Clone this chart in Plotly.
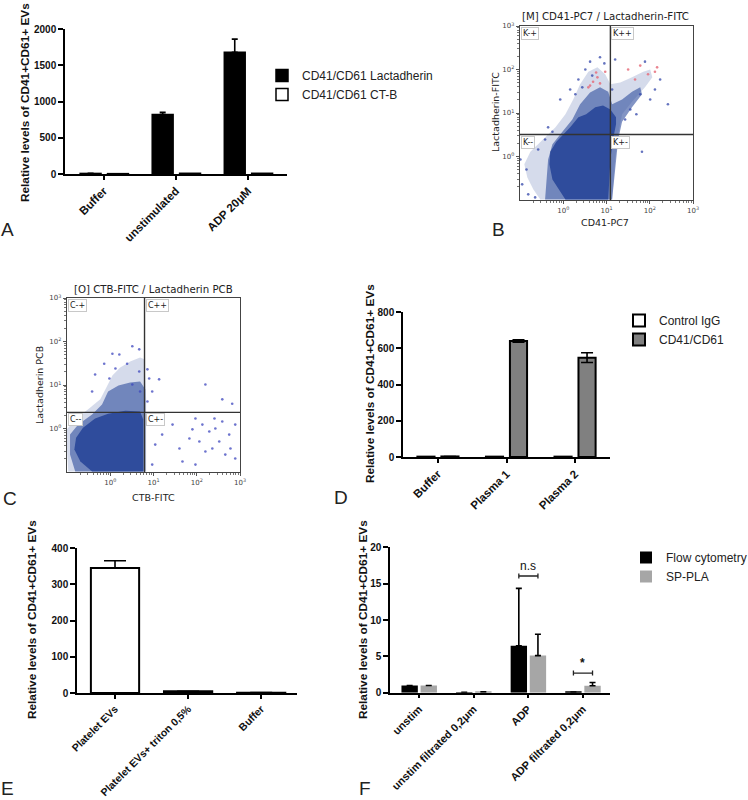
import numpy as np
import plotly.graph_objects as go

W, H = 748, 800

# ---------------- data ----------------
# Panel A
a_cats = ["Buffer", "unstimulated", "ADP 20μM"]
a_lact = [8, 820, 1680]
a_lact_err = [None, 30, 180]
a_ctb = [5, 10, 10]

# Panel D
d_cats = ["Buffer", "Plasma 1", "Plasma 2"]
d_igg = [2, 2, 2]
d_cd = [3, 640, 548]
d_cd_err = [None, 7, 27]

# Panel E
e_cats = ["Platelet EVs", "Platelet EVs+ triton 0,5%", "Buffer"]
e_vals = [345, 5, 1]
e_err = [20, None, None]

# Panel F
f_cats = ["unstim", "unstim filtrated 0,2μm", "ADP", "ADP filtrated 0,2μm"]
f_flow = [1.0, 0.05, 6.45, 0.1]
f_flow_err = [None, None, 7.9, None]
f_pla = [1.0, 0.12, 5.1, 0.95]
f_pla_err = [None, None, 2.95, 0.45]
f_sig_cat = [2, 3]
f_sig_text = ["n.s", "*"]
f_sig_y = [16.05, 2.7]

# Panel B flow cytometry (log10 decades), gates
b_gate_x = 12.3
b_gate_y = 3.2
b_core_x = [0.05, -0.07, -0.25, -0.32, -0.30, -0.16, 0.0, 0.16, 0.35, 0.53, 0.74, 0.92, 1.09, 1.22, 1.22, 1.15, 1.09, 1.04]
b_core_y = [-0.99, -0.80, -0.53, -0.18, 0.11, 0.34, 0.51, 0.67, 0.90, 0.97, 1.13, 1.17, 1.08, 0.90, 0.74, 0.39, -0.07, -0.99]
b_mid_x = [-0.35, -0.25, -0.02, 0.21, 0.39, 0.62, 0.85, 1.04, 1.13, 1.36, 1.59, 1.78, 1.82, 1.59, 1.36, 1.27, 1.20, 1.13, -0.42]
b_mid_y = [-0.07, 0.28, 0.57, 0.85, 1.20, 1.47, 1.59, 1.49, 1.20, 1.31, 1.49, 1.59, 1.43, 1.13, 0.80, 0.39, -0.30, -0.99, -0.99]
b_fringe_x = [-0.53, -0.69, -0.83, -0.90, -0.76, -0.53, -0.18, 0.05, 0.23, 0.39, 0.58, 0.79, 0.97, 1.09, 1.32, 1.59, 1.85, 2.01, 2.06, 1.89, 1.59, 1.36, 1.27, 1.20, 1.13]
b_fringe_y = [-0.99, -0.76, -0.48, -0.18, 0.11, 0.34, 0.67, 0.97, 1.31, 1.66, 1.95, 2.05, 1.89, 1.66, 1.70, 1.82, 1.95, 2.00, 1.82, 1.59, 1.26, 0.97, 0.51, -0.07, -0.99]
b_dots_x = [0.51, 0.62, 0.85, 0.35, 0.67, 0.16, -0.07, 0.28, 0.44, 0.95,
            1.20, 1.89, 2.24, 1.78, 2.01, 1.55, 1.43, 2.12, 1.32, 2.42, 1.69, 1.13,
            1.45, 1.82,
            -0.95, -0.81, -0.65, -0.85, -0.58, -0.42, -0.25, -0.99, -0.35, -0.72]
b_dots_y = [2.00, 2.18, 2.28, 1.77, 1.86, 1.54, 1.31, 1.43, 1.59, 2.14,
            2.23, 2.18, 1.77, 1.43, 1.31, 1.08, 0.85, 1.54, 0.39, 1.20, 0.97, 1.54,
            0.30, 0.11,
            -0.64, -0.87, -0.94, -0.30, 0.16, 0.39, 0.57, -0.07, 0.67, 0.25]
b_red_x = [0.69, 0.79, 0.62, 0.85, 0.97, 0.76, 0.58, 1.50, 1.78, 2.12, 2.17, 1.96, 1.66]
b_red_y = [1.72, 1.82, 1.63, 1.68, 1.95, 1.93, 1.59, 2.00, 2.09, 1.95, 2.05, 1.89, 1.77]

# Panel C flow cytometry (log10 decades), gates
c_gate_x = 6.2
c_gate_y = 2.35
c_core_x = [-0.42, -0.69, -0.83, -0.79, -0.63, -0.35, -0.05, 0.35, 0.69, 0.76, 0.76]
c_core_y = [-0.99, -0.76, -0.48, -0.21, 0.02, 0.23, 0.34, 0.41, 0.39, 0.21, -0.99]
c_mid_x = [-0.81, -0.93, -0.93, -0.74, -0.42, -0.19, -0.05, 0.19, 0.46, 0.69, 0.81, 0.81]
c_mid_y = [-0.99, -0.60, -0.14, 0.09, 0.32, 0.55, 0.85, 0.99, 1.06, 1.08, 0.90, -0.99]
c_fringe_x = [-0.97, -1.0, -1.0, -0.81, -0.51, -0.23, -0.09, 0.05, 0.23, 0.46, 0.69, 0.79, 0.83, 0.83]
c_fringe_y = [-0.99, -0.48, -0.02, 0.21, 0.44, 0.67, 0.94, 1.22, 1.40, 1.54, 1.63, 1.59, 0.67, -0.99]
c_dots_x = [0.05, 0.21, 0.51, -0.14, 0.12, 0.67, 0.39, -0.35, 0.67, -0.02, 0.51, -0.42, 0.69,
            0.86, 0.90, 1.13, 2.20, 2.59, 2.82, 0.97, 0.86,
            1.97, 2.13, 2.29, 2.43, 2.59, 1.83, 2.06, 2.52, 2.75, 2.89, 1.60, 2.20, 2.66, 2.89,
            1.67, 1.97, 1.20, 1.04, 1.44, 0.97, 2.36, 1.90, 2.78, 2.41, 0.90]
c_dots_y = [1.72, 1.70, 1.89, 1.49, 1.38, 1.31, 1.49, 1.24, 1.82, 1.15, 1.01, 0.85, 0.85,
            1.36, 1.15, 1.13, 1.01, 0.67, 0.57, 0.85, 0.62,
            0.23, 0.09, -0.07, 0.00, 0.16, -0.23, -0.30, -0.30, -0.14, 0.09, -0.46, -0.53, -0.60, -0.69,
            -0.76, -0.83, -0.14, -0.37, 0.09, -0.83, -0.46, -0.02, -0.46, 0.23, 0.09]

# ---------------- helpers ----------------
FONT = "Liberation Sans, Arial, sans-serif"
FLOWFONT = "DejaVu Sans, sans-serif"
BLUE = "#2f4c9c"


def px_x(p):
    return p / W


def px_y(p):
    return 1 - p / H


fig = go.Figure()


def bar(vals, name, color, lw, offset, width, ax, err=None, cap=3, legend="legend", showlegend=True, sym=False):
    n = len(vals)
    kw = {}
    if err is not None:
        kw["error_y"] = dict(type="data", array=err, symmetric=sym,
                             arrayminus=(err if sym else [0 if e is not None else None for e in err]),
                             color="black", thickness=1.6, width=cap)
    fig.add_trace(go.Bar(x=list(range(n)), y=vals, name=name, offset=offset, width=width,
                         marker=dict(color=color, line=dict(color="black", width=lw)),
                         xaxis="x" + ax, yaxis="y" + ax, legend=legend, showlegend=showlegend, **kw))


def poly(xs, ys, ax, color):
    fig.add_trace(go.Scatter(x=10 ** np.array(xs), y=10 ** np.array(ys), mode="lines", fill="toself",
                             fillcolor=color, line=dict(width=0), hoverinfo="skip",
                             xaxis="x" + ax, yaxis="y" + ax, showlegend=False))


def dots(xs, ys, ax, color, size=2.6):
    fig.add_trace(go.Scatter(x=10 ** np.array(xs), y=10 ** np.array(ys), mode="markers",
                             marker=dict(color=color, size=size, line=dict(width=0)),
                             xaxis="x" + ax, yaxis="y" + ax, showlegend=False))


def gates(gx, gy, ax):
    for xs, ys in (([gx, gx], [0.1, 1000]), ([0.1, 1000], [gy, gy])):
        fig.add_trace(go.Scatter(x=xs, y=ys, mode="lines", line=dict(color="#333", width=1.4),
                                 xaxis="x" + ax, yaxis="y" + ax, showlegend=False, hoverinfo="skip"))


# Panel A
bar(a_lact, "CD41/CD61 Lactadherin", "black", 1.5, -0.33, 0.29, "", err=a_lact_err, cap=3, legend="legend")
bar(a_ctb, "CD41/CD61 CT-B", "white", 1.5, 0.05, 0.29, "", legend="legend")

# Panel B
poly(b_fringe_x, b_fringe_y, "2", "rgba(47,76,156,0.2)")
poly(b_mid_x, b_mid_y, "2", "rgba(47,76,156,0.6)")
poly(b_core_x, b_core_y, "2", BLUE)
dots(b_dots_x, b_dots_y, "2", "rgba(50,70,170,0.75)")
dots(b_red_x, b_red_y, "2", "rgba(230,110,125,0.85)")
gates(b_gate_x, b_gate_y, "2")

# Panel C
poly(c_fringe_x, c_fringe_y, "3", "rgba(47,76,156,0.2)")
poly(c_mid_x, c_mid_y, "3", "rgba(47,76,156,0.6)")
poly(c_core_x, c_core_y, "3", BLUE)
dots(c_dots_x, c_dots_y, "3", "rgba(60,70,190,0.75)")
gates(c_gate_x, c_gate_y, "3")

# Panel D
bar(d_igg, "Control IgG", "white", 2, -0.30, 0.25, "4", legend="legend2")
bar(d_cd, "CD41/CD61", "#808080", 2, 0.05, 0.25, "4", err=d_cd_err, cap=6, legend="legend2", sym=True)

# Panel E
bar(e_vals, "E", "white", 2, -0.33, 0.66, "5", err=e_err, cap=11, showlegend=False)

# Panel F
bar(f_flow, "Flow cytometry", "black", 0, -0.32, 0.30, "6", err=f_flow_err, cap=3, legend="legend3")
bar(f_pla, "SP-PLA", "#a6a6a6", 0, 0.03, 0.30, "6", err=f_pla_err, cap=3, legend="legend3")

# ---------------- axes ----------------
tickfont_b = dict(family=FONT, size=10, color="#111", weight="bold")


def bar_axes(ax, x0, x1, y0, y1, xr, cats, yr, yt, xfs=11.5):
    xa = "xaxis" + ax
    ya = "yaxis" + ax
    fig.update_layout(**{
        xa: dict(domain=[px_x(x0), px_x(x1)], range=xr, anchor="y" + ax, tickmode="array",
                 tickvals=list(range(len(cats))), ticktext=cats, tickangle=-45, ticks="outside",
                 ticklen=4, tickwidth=1.5, tickcolor="black", showline=True, linecolor="black",
                 linewidth=1.5, showgrid=False, zeroline=False, automargin=False,
                 tickfont=dict(family=FONT, size=xfs, color="#111", weight="bold")),
        ya: dict(domain=[px_y(y1), px_y(y0)], range=yr, anchor="x" + ax, tickmode="array",
                 tickvals=yt, ticks="outside", ticklen=5, tickwidth=1.5, tickcolor="black",
                 showline=True, linecolor="black", linewidth=1.5, showgrid=False, zeroline=False,
                 tickfont=tickfont_b, automargin=False),
    })


bar_axes("", 65, 287, 29, 174, [-0.54, 2.54], a_cats, [0, 2000], [0, 500, 1000, 1500, 2000])
bar_axes("4", 403, 610, 312, 457, [-0.51, 2.51], d_cats, [0, 800], [0, 200, 400, 600, 800])
bar_axes("5", 77, 297, 548, 693, [-0.52, 2.49], e_cats, [0, 400], [0, 100, 200, 300, 400], xfs=10.5)
bar_axes("6", 390, 610, 547.3, 692.7, [-0.53, 3.5], f_cats, [0, 20], [0, 5, 10, 15, 20], xfs=11)

minor_vals = [m * 10 ** d for d in (-1, 0, 1, 2) for m in range(2, 10)]
dec_vals = [1, 10, 100, 1000]
dec_text = ["10<sup>0</sup>", "10<sup>1</sup>", "10<sup>2</sup>", "10<sup>3</sup>"]


def flow_axes(ax, x0, x1, y0, y1):
    common = dict(type="log", range=[-1, 3], tickmode="array", tickvals=dec_vals, ticktext=dec_text,
                  ticks="outside", ticklen=3, tickwidth=1, tickcolor="#555", showline=True, mirror=True,
                  linecolor="#444", linewidth=1.4, showgrid=False, zeroline=False, automargin=False,
                  tickfont=dict(family=FLOWFONT, size=7, color="#444"),
                  minor=dict(tickmode="array", tickvals=minor_vals, ticks="outside", ticklen=2,
                             tickwidth=0.8, tickcolor="#777", showgrid=False))
    fig.update_layout(**{
        "xaxis" + ax: dict(domain=[px_x(x0), px_x(x1)], anchor="y" + ax, **common),
        "yaxis" + ax: dict(domain=[px_y(y1), px_y(y0)], anchor="x" + ax, **common),
    })


flow_axes("2", 520, 693, 26, 200)
flow_axes("3", 67, 240, 298, 472)

# ---------------- annotations ----------------
ann = []


def text(x, y, s, size, family=FONT, angle=0, bold=False, color="#111"):
    ann.append(dict(x=px_x(x), y=px_y(y), xref="paper", yref="paper", text=s, showarrow=False,
                    textangle=angle, xanchor="center", yanchor="middle",
                    font=dict(family=family, size=size, color=color, weight="bold" if bold else "normal")))


ytitle = "Relative levels of CD41+CD61+ EVs"
text(25, 103, ytitle, 11.8, angle=-90, bold=True)
text(370, 384, ytitle, 11.8, angle=-90, bold=True)
text(32, 620, ytitle, 11.8, angle=-90, bold=True)
text(363, 620, ytitle, 11.8, angle=-90, bold=True)

# flow titles
text(605, 17, "[M] CD41-PC7 / Lactadherin-FITC", 10.2, family=FLOWFONT, color="#222")
text(605, 222, "CD41-PC7", 9.5, family=FLOWFONT, color="#222")
text(495, 112, "Lactadherin-FITC", 9.5, family=FLOWFONT, angle=-90, color="#222")
text(153, 289, "[O] CTB-FITC / Lactadherin PCB", 10.2, family=FLOWFONT, color="#222")
text(153, 497, "CTB-FITC", 9.5, family=FLOWFONT, color="#222")
text(40, 385, "Lactadherin PCB", 9.5, family=FLOWFONT, angle=-90, color="#222")


def quad_labels(ax, gx, gy, pref):
    spots = [(-1, 3, pref + "-+"), (np.log10(gx), 3, pref + "++"),
             (-1, np.log10(gy), pref + "--"), (np.log10(gx), np.log10(gy), pref + "+-")]
    for x, y, s in spots:
        ann.append(dict(x=x, y=y, xref="x" + ax, yref="y" + ax, text=s, showarrow=False,
                        xanchor="left", yanchor="top", xshift=1, yshift=-1,
                        bgcolor="white", bordercolor="#c8c8c8", borderwidth=1, borderpad=1,
                        font=dict(family=FLOWFONT, size=8, color="#222")))


quad_labels("2", b_gate_x, b_gate_y, "K")
quad_labels("3", c_gate_x, c_gate_y, "C")

# significance marks in F
shapes = []
for c, s, y in zip(f_sig_cat, f_sig_text, f_sig_y):
    xl, xr = c - 0.17, c + 0.18
    for x0, y0, x1, y1 in ((xl, y, xr, y), (xl, y - 0.35, xl, y + 0.35), (xr, y - 0.35, xr, y + 0.35)):
        shapes.append(dict(type="line", xref="x6", yref="y6", x0=x0, y0=y0, x1=x1, y1=y1,
                           line=dict(color="#222", width=1.3)))
    ann.append(dict(x=c, y=y, xref="x6", yref="y6", text=s, showarrow=False, yanchor="bottom",
                    yshift=1, font=dict(family=FONT, size=12, color="#111",
                                        weight="bold" if s == "*" else "normal")))

# panel letters
for s, x, y in (("A", 8, 229), ("B", 498, 230), ("C", 10, 498), ("D", 341, 497), ("E", 8, 788), ("F", 365, 788)):
    text(x, y, s, 19, color="#222")

legend_common = dict(xanchor="left", yanchor="top", bgcolor="rgba(0,0,0,0)",
                     font=dict(family=FONT, size=12, color="#222"), traceorder="normal")

fig.update_layout(
    template="none",
    width=W, height=H, margin=dict(l=0, r=0, t=0, b=0, autoexpand=False),
    paper_bgcolor="white", plot_bgcolor="white",
    font=dict(family=FONT),
    annotations=ann, shapes=shapes,
    barmode="overlay",
    legend=dict(x=px_x(262), y=px_y(61), **legend_common),
    legend2=dict(x=px_x(619), y=px_y(306), **legend_common),
    legend3=dict(x=px_x(626), y=px_y(543), **legend_common),
)

fig.write_html("out.html", config=dict(displayModeBar=False),
               post_script="document.body.style.margin='0px';document.body.style.overflow='hidden';")
